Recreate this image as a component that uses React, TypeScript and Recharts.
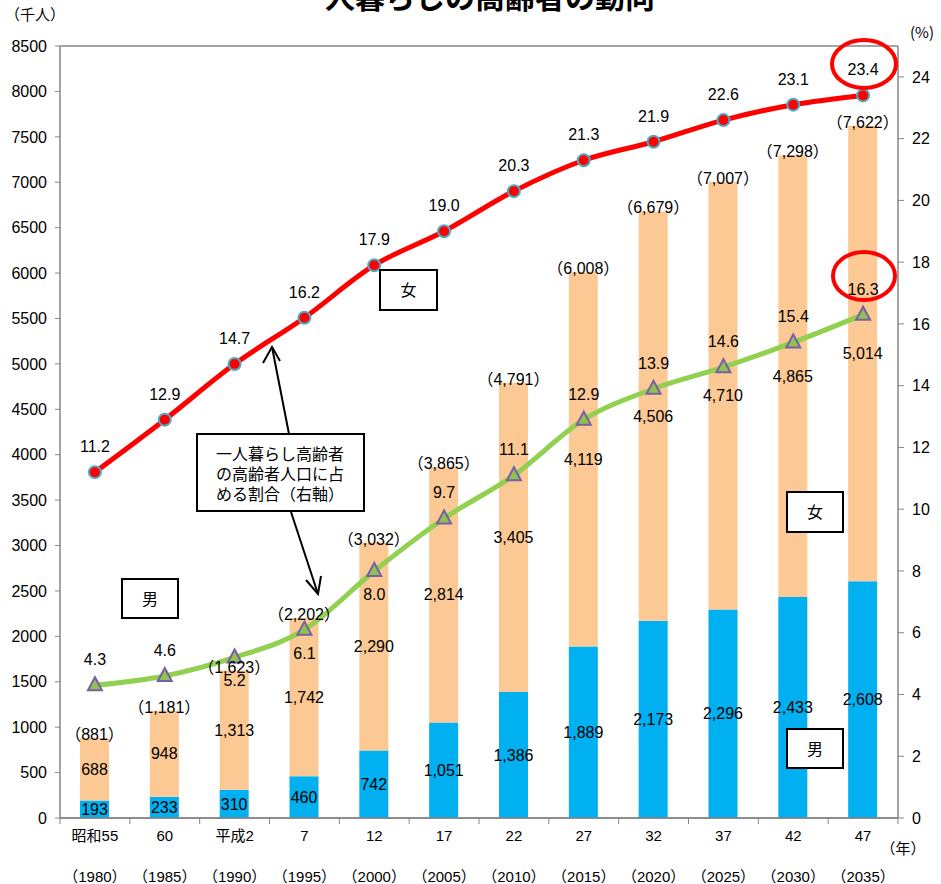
import {
  ComposedChart,
  Bar,
  Line,
  XAxis,
  YAxis,
  CartesianGrid,
  LabelList,
} from 'recharts';

const eras = ['昭和55', '60', '平成2', '7', '12', '17', '22', '27', '32', '37', '42', '47'];
const years = ['1980', '1985', '1990', '1995', '2000', '2005', '2010', '2015', '2020', '2025', '2030', '2035'];
const male = [193, 233, 310, 460, 742, 1051, 1386, 1889, 2173, 2296, 2433, 2608];
const female = [688, 948, 1313, 1742, 2290, 2814, 3405, 4119, 4506, 4710, 4865, 5014];
const totals = [881, 1181, 1623, 2202, 3032, 3865, 4791, 6008, 6679, 7007, 7298, 7622];
const femaleRate = [11.2, 12.9, 14.7, 16.2, 17.9, 19.0, 20.3, 21.3, 21.9, 22.6, 23.1, 23.4];
const maleRate = [4.3, 4.6, 5.2, 6.1, 8.0, 9.7, 11.1, 12.9, 13.9, 14.6, 15.4, 16.3];
// male-rate labels drawn under the point instead of above it
const maleRateBelow = [2, 3, 4];
const leftTicks = [0, 500, 1000, 1500, 2000, 2500, 3000, 3500, 4000, 4500, 5000, 5500, 6000, 6500, 7000, 7500, 8000, 8500];
const rightTicks = [0, 2, 4, 6, 8, 10, 12, 14, 16, 18, 20, 22, 24];

const data = eras.map((era, i) => ({
  era,
  year: years[i],
  male: male[i],
  female: female[i],
  total: totals[i],
  femaleRate: femaleRate[i],
  maleRate: maleRate[i],
}));

const FONT = '"Liberation Sans", Arial, "Noto Sans CJK JP", sans-serif';
const JP = '"Noto Sans CJK JP", sans-serif';
const fmt = (v: number) => v.toLocaleString('en-US');
const labelStyle = { fill: '#000', fontSize: 16, fontFamily: FONT };

const XTick = (props: any) => {
  const { x, y, payload, index } = props;
  const i = payload?.index ?? index;
  const half = 838 / 12 / 2;
  const axisY = y - 8;
  return (
    <g>
      <line x1={x - half} y1={axisY} x2={x - half} y2={axisY + 6} stroke="#868686" />
      {i === eras.length - 1 && (
        <line x1={x + half} y1={axisY} x2={x + half} y2={axisY + 6} stroke="#868686" />
      )}
      <text x={x} y={axisY + 23} textAnchor="middle" fontSize={15} fontFamily={FONT} fill="#000">
        {eras[i]}
      </text>
      <text x={x} y={axisY + 64} textAnchor="middle" fontSize={15} fontFamily={FONT} fill="#000">
        （{years[i]}）
      </text>
    </g>
  );
};

const TotalLabel = (props: any) => {
  const { x, y, width, index } = props;
  return (
    <text x={x + width / 2} y={y + 2} textAnchor="middle" fontSize={16} fontFamily={FONT} fill="#000">
      （{fmt(totals[index])}）
    </text>
  );
};

const RateLabel = (below: number[]) => (props: any) => {
  const { x, y, index, value } = props;
  const dy = below.includes(index) ? 29 : -20;
  return (
    <text x={x} y={y + dy} textAnchor="middle" fontSize={16} fontFamily={FONT} fill="#000">
      {Number(value).toFixed(1)}
    </text>
  );
};

const RedDot = (props: any) => {
  const { cx, cy } = props;
  return <circle cx={cx} cy={cy} r={6} fill="#ff0000" stroke="#4bacc6" strokeWidth={2} />;
};

const TriDot = (props: any) => {
  const { cx, cy } = props;
  return (
    <polygon
      points={`${cx},${cy - 8} ${cx - 7},${cy + 5} ${cx + 7},${cy + 5}`}
      fill="#8fc24f"
      stroke="#7a5ea8"
      strokeWidth={2}
    />
  );
};

const Box = ({ x, y, w, h, text }: { x: number; y: number; w: number; h: number; text: string }) => (
  <g>
    <rect x={x} y={y} width={w} height={h} fill="#fff" stroke="#000" strokeWidth={2} />
    <text x={x + w / 2} y={y + h / 2 + 6} textAnchor="middle" fontSize={16} fontFamily={JP}>
      {text}
    </text>
  </g>
);

export default function App() {
  return (
    <div style={{ position: 'fixed', left: 0, top: 0, width: 941, height: 884, background: '#fff' }}>
      <ComposedChart
        width={941}
        height={884}
        data={data}
        margin={{ top: 46, right: 0, bottom: 0, left: 0 }}
        barSize={29}
      >
        <CartesianGrid vertical={false} stroke="#868686" strokeWidth={1.5} />
        <XAxis
          dataKey="era"
          height={66}
          tickLine={false}
          axisLine={{ stroke: '#868686', strokeWidth: 1.5 }}
          tick={<XTick />}
          interval={0}
        />
        <YAxis
          yAxisId="left"
          width={60}
          domain={[0, 8500]}
          ticks={leftTicks}
          interval={0}
          tickSize={5}
          tickMargin={8}
          tickLine={{ stroke: '#868686' }}
          axisLine={{ stroke: '#868686', strokeWidth: 1.5 }}
          tick={{ fill: '#000', fontSize: 16, fontFamily: FONT }}
        />
        <YAxis
          yAxisId="right"
          orientation="right"
          width={43}
          domain={[0, 25]}
          ticks={rightTicks}
          interval={0}
          tickSize={6}
          tickMargin={8}
          tickLine={{ stroke: '#868686' }}
          axisLine={{ stroke: '#868686', strokeWidth: 1.5 }}
          tick={{ fill: '#000', fontSize: 16, fontFamily: FONT }}
        />
        <Bar yAxisId="left" dataKey="male" stackId="a" fill="#00b0f0" isAnimationActive={false}>
          <LabelList dataKey="male" position="center" formatter={(v: any) => fmt(v)} style={labelStyle} />
        </Bar>
        <Bar yAxisId="left" dataKey="female" stackId="a" fill="#fcc994" isAnimationActive={false}>
          <LabelList dataKey="female" position="center" formatter={(v: any) => fmt(v)} style={labelStyle} />
          <LabelList dataKey="total" content={<TotalLabel />} />
        </Bar>
        <Line
          yAxisId="right"
          type="monotone"
          dataKey="femaleRate"
          stroke="#ff0000"
          strokeWidth={5}
          dot={<RedDot />}
          activeDot={false}
          isAnimationActive={false}
        >
          <LabelList dataKey="femaleRate" content={RateLabel([])} />
        </Line>
        <Line
          yAxisId="right"
          type="monotone"
          dataKey="maleRate"
          stroke="#92d050"
          strokeWidth={5}
          dot={<TriDot />}
          activeDot={false}
          isAnimationActive={false}
        >
          <LabelList dataKey="maleRate" content={RateLabel(maleRateBelow)} />
        </Line>
      </ComposedChart>
      <svg
        width={941}
        height={884}
        style={{ position: 'absolute', left: 0, top: 0, pointerEvents: 'none' }}
      >
        <text x={475} y={8} textAnchor="middle" fontSize={30} fontWeight="bold" fontFamily={JP}>
          一人暮らしの高齢者の動向
        </text>
        <text x={35} y={20} textAnchor="middle" fontSize={15} fontFamily={JP}>
          （千人）
        </text>
        <text x={922} y={38} textAnchor="middle" fontSize={15} fontFamily={JP}>
          (%)
        </text>
        <text x={903} y={854} textAnchor="middle" fontSize={15} fontFamily={JP}>
          （年）
        </text>
        <Box x={380} y={270} w={57} h={40} text="女" />
        <Box x={122} y={579} w={56} h={39} text="男" />
        <Box x={787} y={492} w={56} h={40} text="女" />
        <Box x={787} y={729} w={56} h={39} text="男" />
        <line x1={289} y1={434} x2={272} y2={347} stroke="#000" strokeWidth={2} />
        <polyline points="263,363 272,347 280,361" fill="none" stroke="#000" strokeWidth={2} />
        <line x1={291} y1={512} x2={318} y2={594} stroke="#000" strokeWidth={2} />
        <polyline points="306,580 318,594 321,576" fill="none" stroke="#000" strokeWidth={2} />
        <rect x={197} y={434} width={167} height={77} fill="#fff" stroke="#000" strokeWidth={2} />
        <text fontSize={16} fontFamily={JP} fill="#000">
          <tspan x={216} y={460}>一人暮らし高齢者</tspan>
          <tspan x={216} y={480}>の高齢者人口に占</tspan>
          <tspan x={216} y={500}>める割合（右軸）</tspan>
        </text>
        <ellipse cx={864} cy={64} rx={32} ry={24} fill="none" stroke="#ff0000" strokeWidth={4} />
        <ellipse cx={864} cy={276} rx={31} ry={24} fill="none" stroke="#ff0000" strokeWidth={4} />
      </svg>
    </div>
  );
}
